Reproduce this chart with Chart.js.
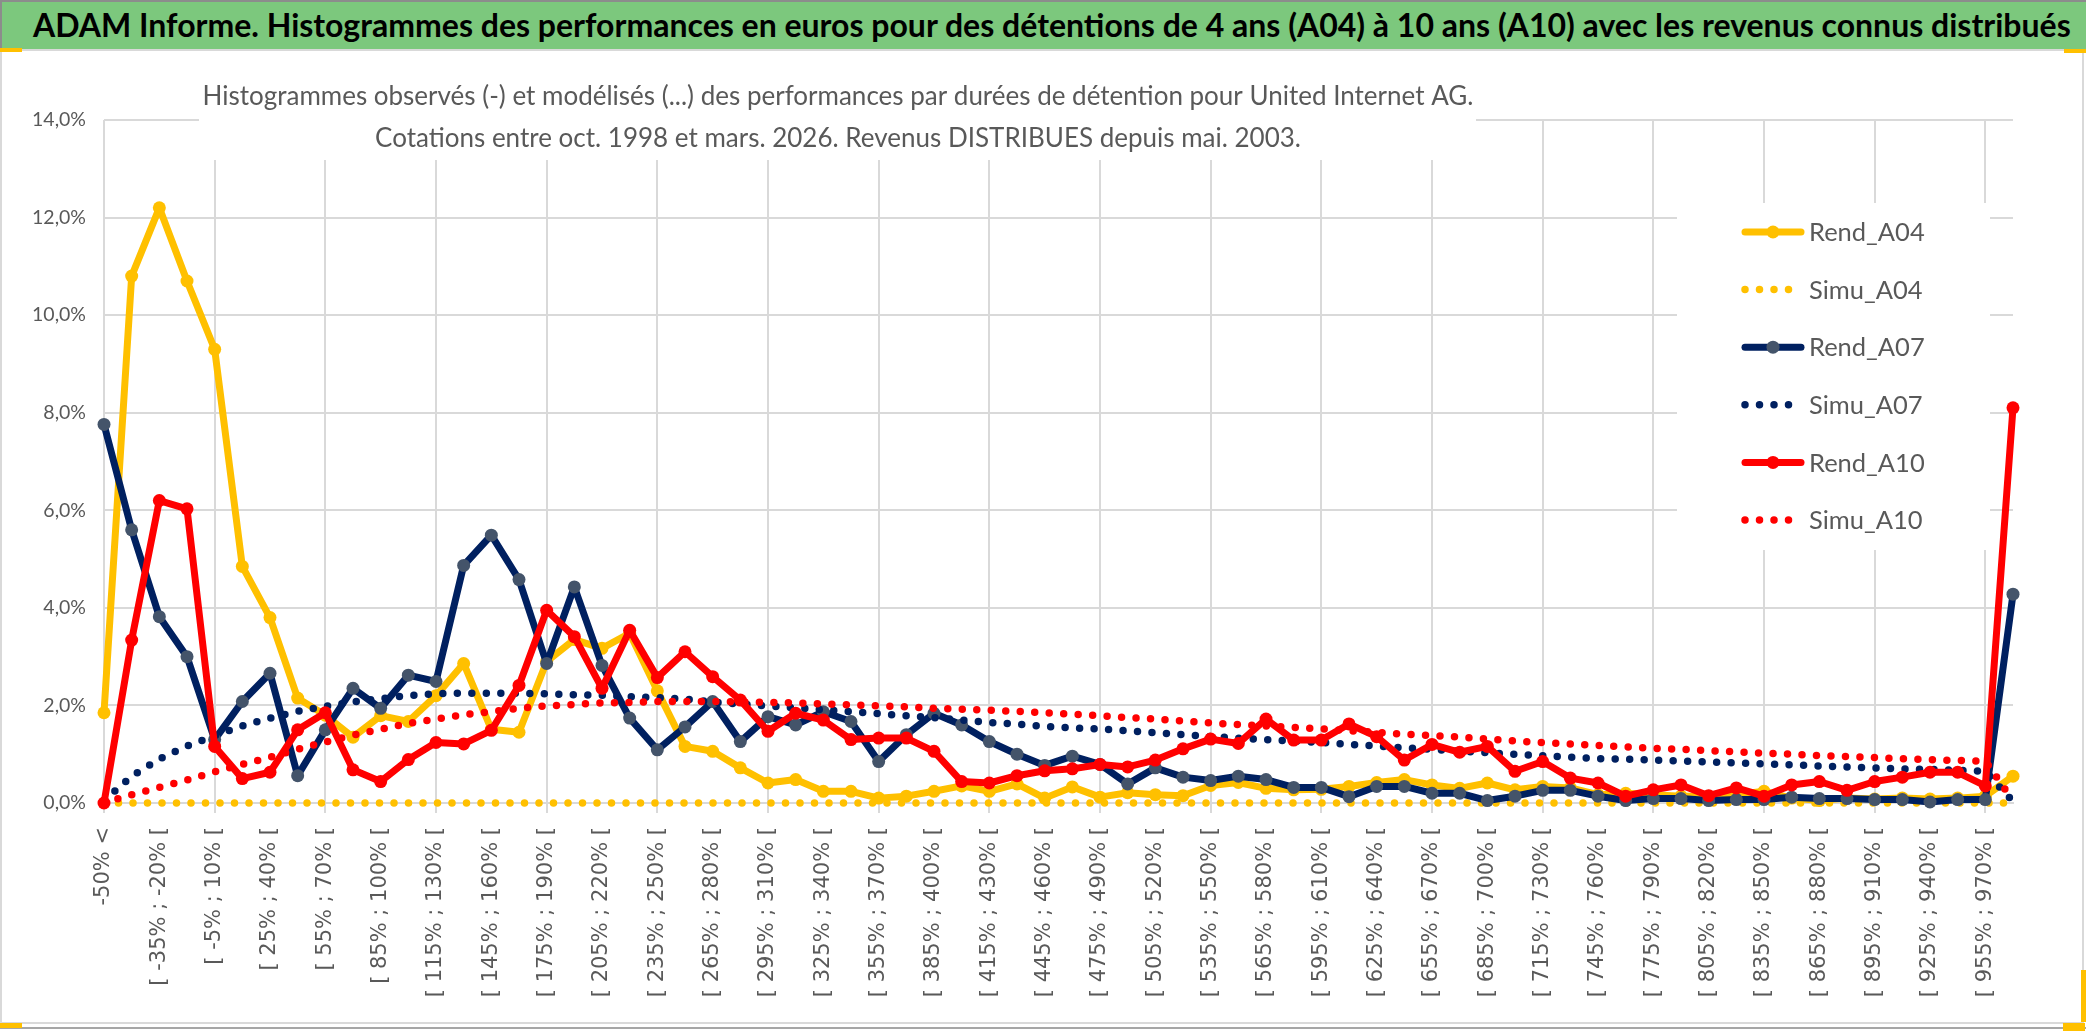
<!DOCTYPE html>
<html>
<head>
<meta charset="utf-8">
<script src="https://cdn.jsdelivr.net/npm/chart.js@4.4.1/dist/chart.umd.min.js"></script>
<style>
  html, body { margin: 0; padding: 0; background: #ffffff; }
  body { width: 2086px; height: 1031px; position: relative; overflow: hidden; font-family: Lato, sans-serif; }
  #bar {
    position: absolute; left: 0; top: 0; width: 2086px; height: 49px;
    background: #7cc87d; border-top: 2px solid #8c8c8c; border-left: 2px solid #8c8c8c;
    box-sizing: border-box; padding-left: 31px;
    font: bold 32px Lato, sans-serif; line-height: 46px; color: #000000; white-space: nowrap;
  }
  #frame {
    position: absolute; left: 0; top: 49px; width: 2084px; height: 975px;
    border: 2px solid #d9d9d9; box-sizing: border-box;
  }
  #edge { position: absolute; left: 0; top: 1027px; width: 2086px; height: 2px; background: #a6a6a6; }
  .handle { position: absolute; background: #ffc000; }
  #wrap { position: absolute; left: 0; top: 0; width: 2086px; height: 1031px; }
</style>
</head>
<body>
<div id="frame"></div>
<div id="edge"></div>
<div id="bar">ADAM Informe. Histogrammes des performances en euros pour des détentions de 4 ans (A04) à 10 ans (A10) avec les revenus connus distribués</div>
<div class="handle" style="left:0;top:48px;width:22px;height:4px"></div>
<div class="handle" style="left:2064px;top:49px;width:22px;height:4px"></div>
<div class="handle" style="left:0;top:1023px;width:22px;height:5px"></div>
<div class="handle" style="left:2081px;top:970px;width:5px;height:52px"></div>
<div class="handle" style="left:2063px;top:1023px;width:22px;height:8px"></div>
<div id="wrap"><canvas id="chart" width="2086" height="1031"></canvas></div>

<script>
// bins of 15 points of performance, one label shown out of two
const categories = [
  "-50% <", "[ -50% ; -35% [", "[ -35% ; -20% [", "[ -20% ; -5% [", "[ -5% ; 10% [",
  "[ 10% ; 25% [", "[ 25% ; 40% [", "[ 40% ; 55% [", "[ 55% ; 70% [", "[ 70% ; 85% [",
  "[ 85% ; 100% [", "[ 100% ; 115% [", "[ 115% ; 130% [", "[ 130% ; 145% [", "[ 145% ; 160% [",
  "[ 160% ; 175% [", "[ 175% ; 190% [", "[ 190% ; 205% [", "[ 205% ; 220% [", "[ 220% ; 235% [",
  "[ 235% ; 250% [", "[ 250% ; 265% [", "[ 265% ; 280% [", "[ 280% ; 295% [", "[ 295% ; 310% [",
  "[ 310% ; 325% [", "[ 325% ; 340% [", "[ 340% ; 355% [", "[ 355% ; 370% [", "[ 370% ; 385% [",
  "[ 385% ; 400% [", "[ 400% ; 415% [", "[ 415% ; 430% [", "[ 430% ; 445% [", "[ 445% ; 460% [",
  "[ 460% ; 475% [", "[ 475% ; 490% [", "[ 490% ; 505% [", "[ 505% ; 520% [", "[ 520% ; 535% [",
  "[ 535% ; 550% [", "[ 550% ; 565% [", "[ 565% ; 580% [", "[ 580% ; 595% [", "[ 595% ; 610% [",
  "[ 610% ; 625% [", "[ 625% ; 640% [", "[ 640% ; 655% [", "[ 655% ; 670% [", "[ 670% ; 685% [",
  "[ 685% ; 700% [", "[ 700% ; 715% [", "[ 715% ; 730% [", "[ 730% ; 745% [", "[ 745% ; 760% [",
  "[ 760% ; 775% [", "[ 775% ; 790% [", "[ 790% ; 805% [", "[ 805% ; 820% [", "[ 820% ; 835% [",
  "[ 835% ; 850% [", "[ 850% ; 865% [", "[ 865% ; 880% [", "[ 880% ; 895% [", "[ 895% ; 910% [",
  "[ 910% ; 925% [", "[ 925% ; 940% [", "[ 940% ; 955% [", "[ 955% ; 970% [", "970% >="
]

// observed frequencies, in %
const rendA04 = [
  1.85, 10.8, 12.2, 10.7, 9.3, 4.85, 3.8, 2.15, 1.8, 1.35,
  1.79, 1.67, 2.2, 2.86, 1.51, 1.45, 2.9, 3.35, 3.17, 3.48,
  2.3, 1.16, 1.06, 0.72, 0.41, 0.48, 0.24, 0.24, 0.10, 0.14,
  0.24, 0.35, 0.24, 0.39, 0.10, 0.33, 0.12, 0.21, 0.17, 0.15,
  0.36, 0.42, 0.30, 0.27, 0.28, 0.34, 0.42, 0.48, 0.37, 0.30,
  0.41, 0.27, 0.34, 0.31, 0.17, 0.20, 0.17, 0.14, 0.14, 0.17,
  0.24, 0.10, 0.05, 0.10, 0.08, 0.10, 0.08, 0.10, 0.14, 0.55
]
const rendA07 = [
  7.76, 5.6, 3.82, 3.0, 1.3, 2.08, 2.66, 0.56, 1.5, 2.35,
  1.94, 2.62, 2.49, 4.87, 5.49, 4.58, 2.86, 4.43, 2.82, 1.74,
  1.09, 1.56, 2.08, 1.26, 1.77, 1.6, 1.87, 1.67, 0.85, 1.4,
  1.84, 1.6, 1.26, 1.0, 0.77, 0.96, 0.79, 0.39, 0.72, 0.53,
  0.46, 0.55, 0.48, 0.32, 0.32, 0.13, 0.34, 0.34, 0.20, 0.20,
  0.05, 0.14, 0.26, 0.26, 0.14, 0.05, 0.09, 0.09, 0.05, 0.07,
  0.07, 0.12, 0.09, 0.09, 0.07, 0.07, 0.02, 0.07, 0.07, 4.28
]
const rendA10 = [
  0.0, 3.34, 6.2, 6.03, 1.16, 0.5, 0.63, 1.5, 1.85, 0.68,
  0.44, 0.89, 1.24, 1.21, 1.49, 2.41, 3.95, 3.41, 2.35, 3.54,
  2.57, 3.1, 2.59, 2.11, 1.47, 1.84, 1.7, 1.3, 1.33, 1.33,
  1.06, 0.44, 0.41, 0.56, 0.66, 0.7, 0.79, 0.74, 0.88, 1.11,
  1.31, 1.22, 1.72, 1.29, 1.29, 1.62, 1.36, 0.88, 1.2, 1.04,
  1.16, 0.65, 0.85, 0.51, 0.41, 0.14, 0.27, 0.37, 0.15, 0.31,
  0.14, 0.37, 0.44, 0.26, 0.44, 0.53, 0.63, 0.63, 0.35, 8.1
]

// modelled frequencies, in %
const simuA04 = [
  0, 0, 0, 0, 0, 0, 0, 0, 0, 0,
  0, 0, 0, 0, 0, 0, 0, 0, 0, 0,
  0, 0, 0, 0, 0, 0, 0, 0, 0, 0,
  0, 0, 0, 0, 0, 0, 0, 0, 0, 0,
  0, 0, 0, 0, 0, 0, 0, 0, 0, 0,
  0, 0, 0, 0, 0, 0, 0, 0, 0, 0,
  0, 0, 0, 0, 0, 0, 0, 0, 0, 0
]
const simuA07 = [
  0.05, 0.55, 0.9, 1.17, 1.38, 1.58, 1.74, 1.88, 1.98, 2.07,
  2.14, 2.2, 2.24, 2.25, 2.25, 2.25, 2.24, 2.22, 2.21, 2.18,
  2.16, 2.13, 2.07, 2.03, 1.99, 1.95, 1.91, 1.87, 1.83, 1.79,
  1.75, 1.7, 1.65, 1.62, 1.57, 1.54, 1.52, 1.48, 1.44, 1.4,
  1.36, 1.33, 1.3, 1.27, 1.24, 1.2, 1.17, 1.13, 1.1, 1.06,
  1.03, 1.0, 0.97, 0.94, 0.91, 0.9, 0.88, 0.86, 0.84, 0.82,
  0.8, 0.78, 0.76, 0.74, 0.72, 0.7, 0.69, 0.67, 0.65, 0.03
]
const simuA10 = [
  0.0, 0.17, 0.32, 0.47, 0.64, 0.79, 0.94, 1.1, 1.25, 1.39,
  1.51, 1.63, 1.72, 1.81, 1.87, 1.94, 1.99, 2.02, 2.05, 2.06,
  2.08, 2.08, 2.08, 2.07, 2.06, 2.05, 2.03, 2.01, 1.99, 1.97,
  1.94, 1.92, 1.9, 1.88, 1.85, 1.82, 1.79, 1.75, 1.72, 1.68,
  1.64, 1.61, 1.58, 1.55, 1.52, 1.48, 1.45, 1.41, 1.38, 1.35,
  1.31, 1.27, 1.24, 1.21, 1.18, 1.15, 1.12, 1.1, 1.07, 1.05,
  1.02, 1.0, 0.97, 0.95, 0.93, 0.91, 0.89, 0.87, 0.86, 0.05
]

const yTicks = [0, 2, 4, 6, 8, 10, 12, 14]

const subtitle = [
  "Histogrammes observés (-) et modélisés (...) des performances par durées de détention pour United Internet AG.",
  "Cotations entre oct. 1998 et mars. 2026. Revenus DISTRIBUES depuis mai. 2003."
]

const YELLOW = "#FFC000"
const NAVY = "#002060"
const NAVY_MARK = "#44546A"
const RED = "#FF0000"
const GRID = "#D9D9D9"
const TEXT = "#595959"

function observed(label, data, color, markColor, order) {
  return {
    label, data, order,
    borderColor: color,
    backgroundColor: color,
    borderWidth: 7,
    borderJoinStyle: "round",
    borderCapStyle: "round",
    pointRadius: 6.5,
    pointBackgroundColor: markColor,
    pointBorderColor: markColor,
    pointBorderWidth: 0,
    tension: 0,
    clip: false
  }
}

function modelled(label, data, color, order) {
  return {
    label, data, order,
    borderColor: color,
    backgroundColor: color,
    borderWidth: 7.5,
    borderDash: [0, 14.5],
    borderCapStyle: "round",
    pointRadius: 0,
    tension: 0,
    clip: false
  }
}

// title box and legend box sit on top of the plot, as in the spreadsheet
const overlay = {
  id: "overlay",
  beforeDatasetsDraw(chart) {
    const ctx = chart.ctx
    ctx.save()
    ctx.fillStyle = "#ffffff"
    ctx.fillRect(199, 56, 1277, 104)
    ctx.fillRect(1677, 203, 313, 347)
    ctx.restore()
  },
  afterDraw(chart) {
    const ctx = chart.ctx
    ctx.save()
    ctx.fillStyle = TEXT
    ctx.textBaseline = "middle"
    ctx.textAlign = "center"
    ctx.font = "26px Lato"
    ctx.fillText(subtitle[0], 838, 97)
    ctx.fillText(subtitle[1], 838, 139)

    ctx.textAlign = "left"
    ctx.font = "25.5px Lato"
    chart.data.datasets.forEach((ds, i) => {
      const y = 232 + i * 57.6
      ctx.save()
      ctx.strokeStyle = ds.borderColor
      ctx.lineWidth = ds.borderWidth
      ctx.lineCap = "round"
      ctx.beginPath()
      if (ds.borderDash) {
        ctx.setLineDash(ds.borderDash)
        ctx.moveTo(1745, y)
        ctx.lineTo(i === 5 ? 1802 : 1790, y)
      } else {
        ctx.moveTo(1745, y)
        ctx.lineTo(1801, y)
      }
      ctx.stroke()
      if (ds.pointRadius > 0) {
        ctx.fillStyle = ds.pointBackgroundColor
        ctx.beginPath()
        ctx.arc(1773, y, ds.pointRadius, 0, Math.PI * 2)
        ctx.fill()
      }
      ctx.restore()
      ctx.fillText(ds.label, 1809, y + 1)
    })
    ctx.restore()
  }
}

new Chart(document.getElementById("chart"), {
  type: "line",
  data: {
    labels: categories,
    datasets: [
      observed("Rend_A04", rendA04, YELLOW, YELLOW, 6),
      modelled("Simu_A04", simuA04, YELLOW, 5),
      observed("Rend_A07", rendA07, NAVY, NAVY_MARK, 4),
      modelled("Simu_A07", simuA07, NAVY, 3),
      observed("Rend_A10", rendA10, RED, RED, 2),
      modelled("Simu_A10", simuA10, RED, 1)
    ]
  },
  options: {
    responsive: false,
    animation: false,
    layout: {
      padding: { top: 120, right: 73, bottom: 0, left: 0 }
    },
    plugins: {
      legend: { display: false },
      tooltip: { enabled: false }
    },
    scales: {
      x: {
        offset: false,
        grid: {
          color: (c) => (c.index % 4 === 0 ? GRID : "rgba(0,0,0,0)"),
          lineWidth: 2,
          tickLength: 10
        },
        border: { color: GRID, width: 2 },
        ticks: {
          autoSkip: false,
          minRotation: 90,
          maxRotation: 90,
          padding: 14,
          color: TEXT,
          font: { family: "DejaVu Sans", size: 21 },
          callback: (value, index) => (index % 2 === 0 ? categories[index] : "")
        },
        afterFit: (scale) => { scale.height = 228 }
      },
      y: {
        min: yTicks[0],
        max: yTicks[yTicks.length - 1],
        afterBuildTicks: (scale) => { scale.ticks = yTicks.map((v) => ({ value: v })) },
        grid: { color: GRID, lineWidth: 2, drawTicks: false },
        border: { display: false },
        ticks: {
          padding: 18,
          color: TEXT,
          font: { family: "Lato", size: 19.5 },
          callback: (value) => value.toFixed(1).replace(".", ",") + "%"
        },
        afterFit: (scale) => { scale.width = 104 }
      }
    }
  },
  plugins: [overlay]
})
</script>
</body>
</html>
